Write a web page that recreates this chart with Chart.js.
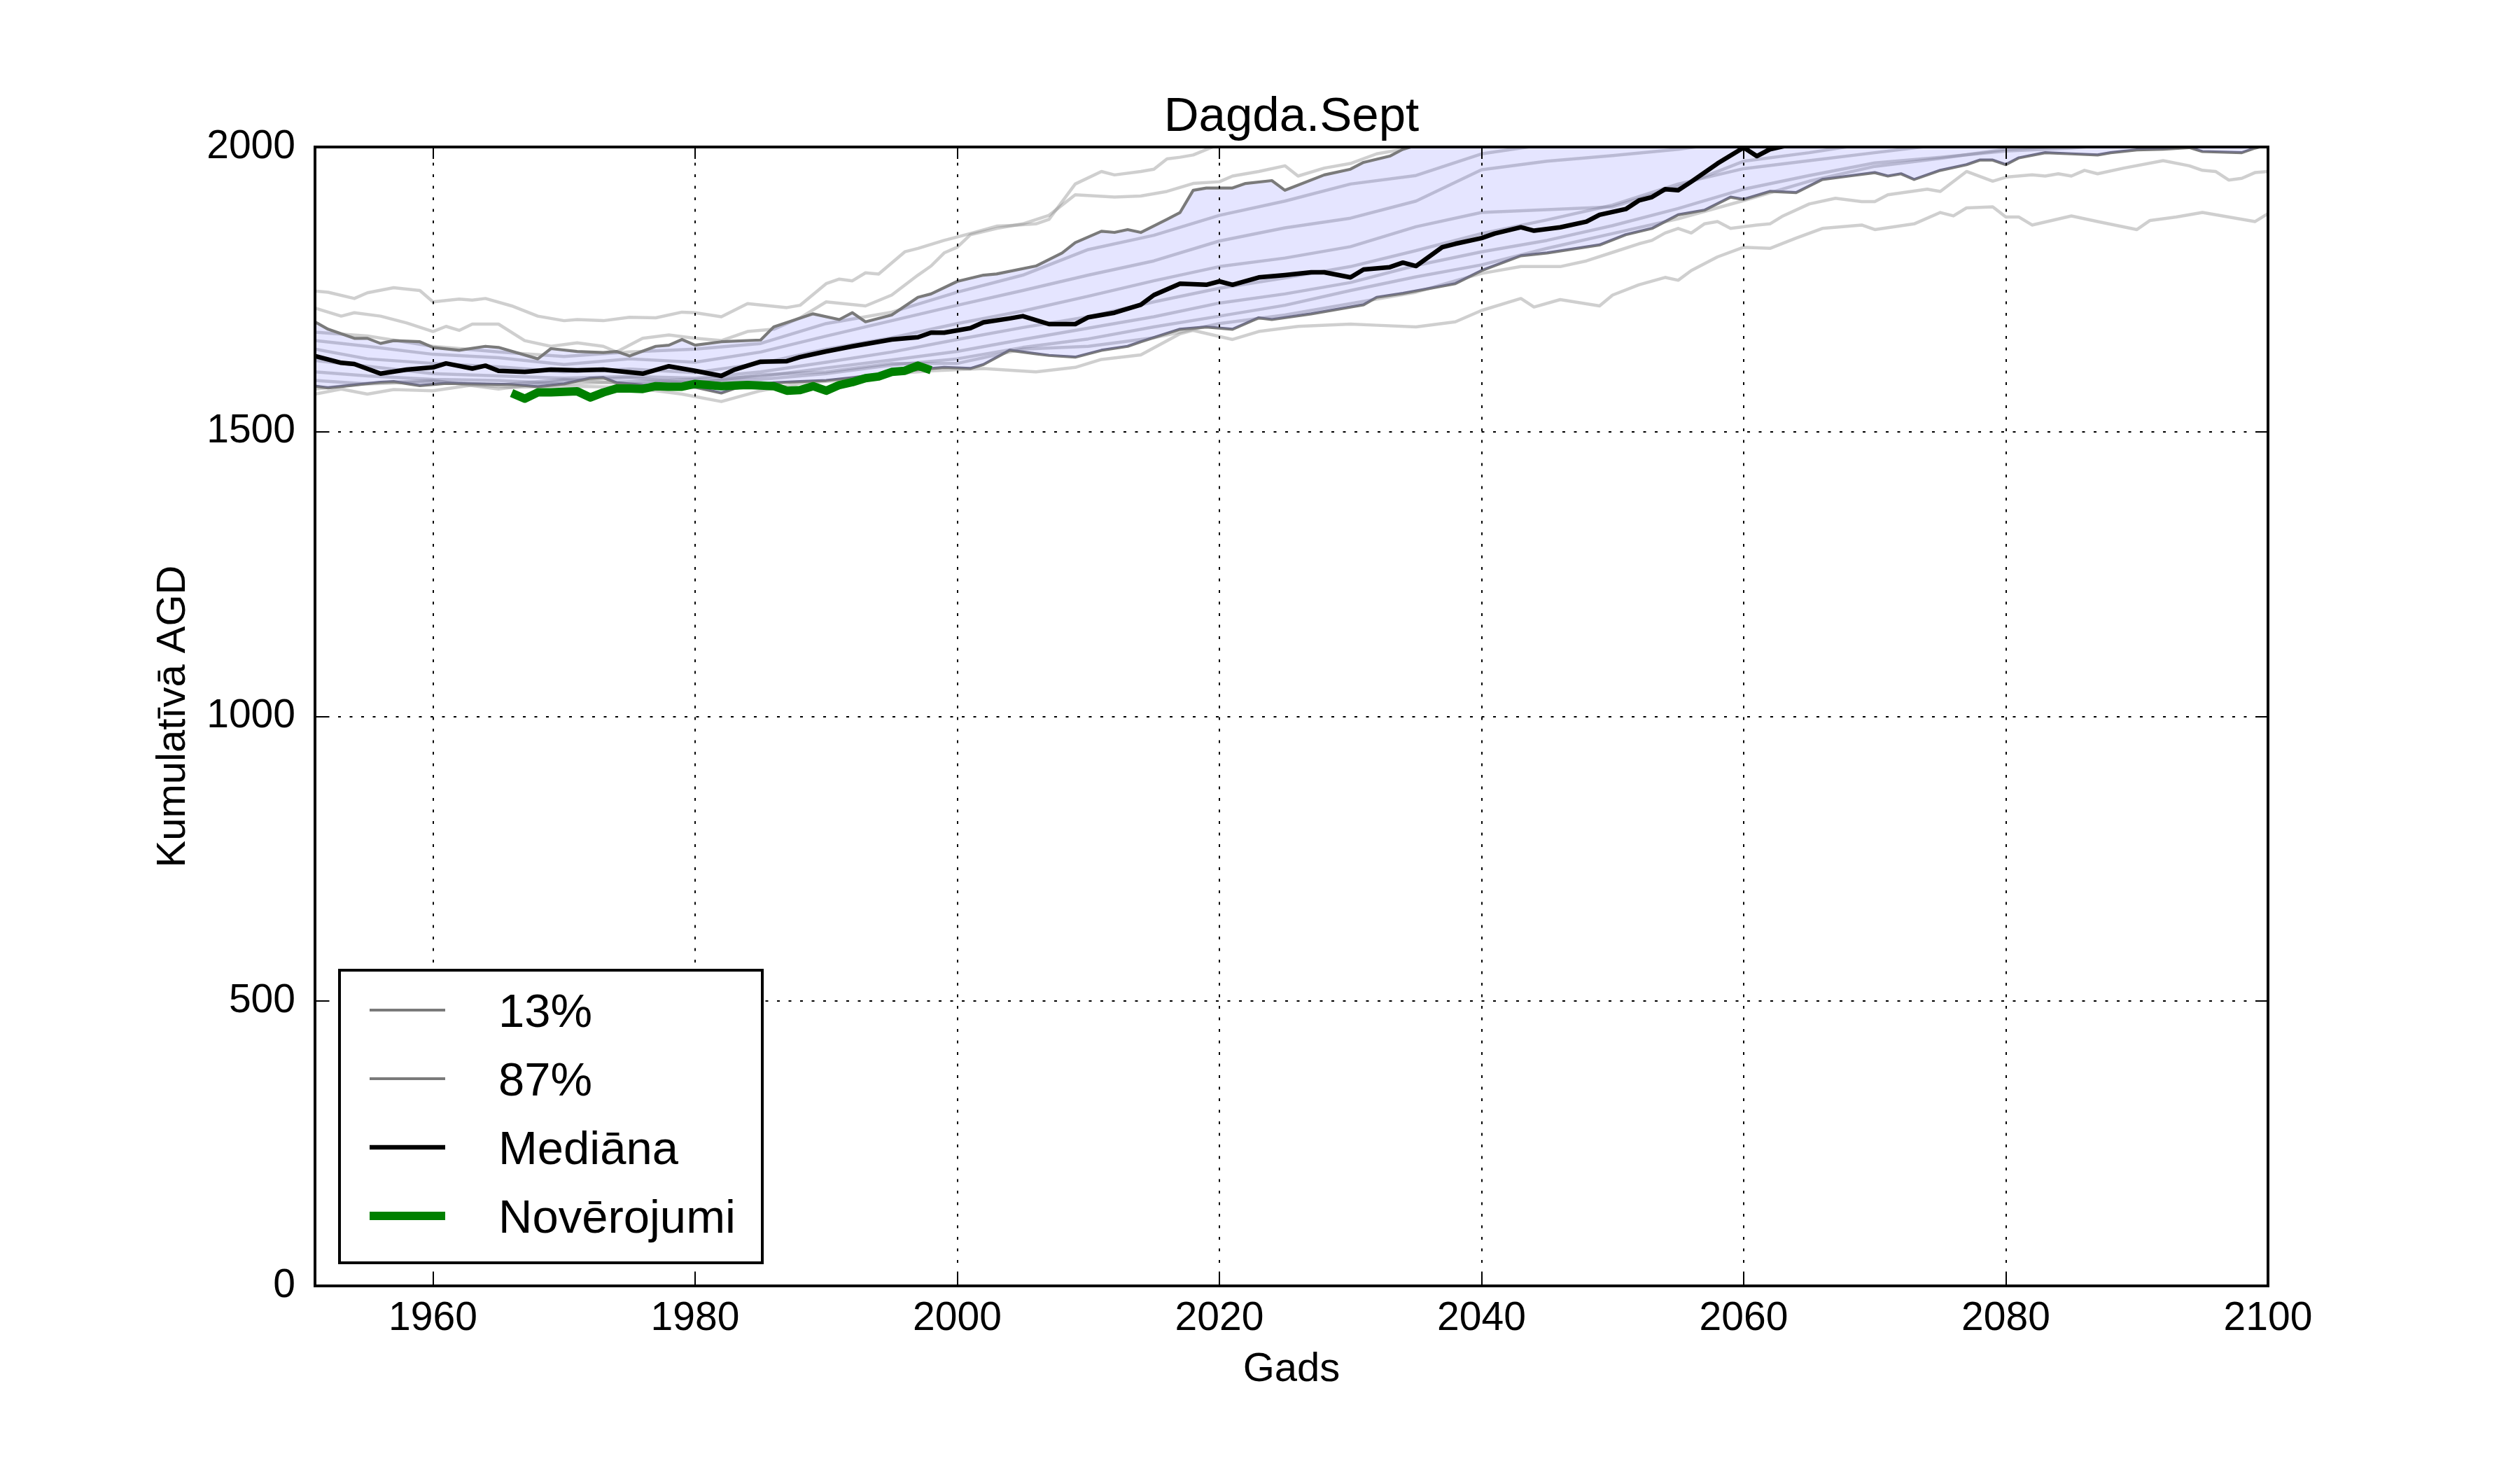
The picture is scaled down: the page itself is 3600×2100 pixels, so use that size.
<!DOCTYPE html>
<html lang="lv">
<head>
<meta charset="UTF-8">
<title>Dagda.Sept</title>
<script src="https://cdn.jsdelivr.net/npm/chart.js@4"></script>
<style>
    html, body { margin: 0; padding: 0; background: #fff; }
    #wrap { width: 3600px; height: 2100px; position: relative; }
</style>
</head>
<body>
<div id="wrap"><canvas id="chart"></canvas></div>
<script>
// values
const xTicks = [1960, 1980, 2000, 2020, 2040, 2060, 2080, 2100];
const yTicks = [0, 500, 1000, 1500, 2000];

const medianYears = [1951, 1953, 1954, 1956, 1958, 1960, 1961, 1963, 1964, 1965, 1967, 1969, 1971, 1973, 1976, 1978, 1980, 1982, 1983, 1985, 1987, 1988, 1990, 1992, 1994, 1995, 1997, 1998, 1999, 2001, 2002, 2004, 2005, 2007, 2009, 2010, 2012, 2014, 2015, 2017, 2019, 2020, 2021, 2023, 2025, 2027, 2028, 2030, 2031, 2033, 2034, 2035, 2037, 2038, 2040, 2041, 2043, 2044, 2046, 2048, 2049, 2051, 2052, 2053, 2054, 2055, 2056, 2057, 2058, 2060, 2061, 2062, 2063, 2065];
const medianValues = [1633, 1621, 1619, 1602, 1609, 1613, 1620, 1611, 1616, 1607, 1605, 1609, 1608, 1609, 1602, 1615, 1607, 1598, 1609, 1623, 1624, 1631, 1641, 1650, 1658, 1662, 1666, 1674, 1674, 1682, 1692, 1699, 1703, 1689, 1689, 1701, 1709, 1723, 1740, 1760, 1758, 1764, 1758, 1771, 1775, 1780, 1780, 1771, 1785, 1789, 1797, 1791, 1824, 1830, 1840, 1848, 1859, 1853, 1859, 1869, 1881, 1891, 1906, 1912, 1926, 1924, 1939, 1955, 1971, 1999, 1984, 1996, 2001, 2015];

const p87Years = [1951, 1952, 1954, 1955, 1956, 1957, 1959, 1960, 1962, 1964, 1965, 1968, 1969, 1971, 1973, 1974, 1975, 1977, 1978, 1979, 1980, 1982, 1985, 1986, 1989, 1991, 1992, 1993, 1995, 1997, 1998, 2000, 2002, 2003, 2006, 2008, 2009, 2011, 2012, 2013, 2014, 2016, 2017, 2018, 2019, 2021, 2022, 2024, 2025, 2028, 2030, 2031, 2033, 2034, 2035, 2040, 2050, 2060, 2070, 2080, 2090, 2100];
const p87Values = [1693, 1680, 1664, 1664, 1655, 1660, 1658, 1648, 1643, 1650, 1648, 1628, 1646, 1641, 1639, 1641, 1633, 1650, 1652, 1662, 1652, 1658, 1661, 1684, 1707, 1697, 1709, 1693, 1705, 1736, 1742, 1764, 1775, 1777, 1791, 1814, 1832, 1852, 1850, 1855, 1850, 1873, 1885, 1924, 1928, 1928, 1936, 1941, 1924, 1951, 1961, 1973, 1984, 1996, 2003, 2040, 2100, 2160, 2210, 2250, 2290, 2320];

const p13Years = [1951, 1952, 1954, 1956, 1957, 1959, 1961, 1963, 1966, 1968, 1970, 1972, 1973, 1974, 1976, 1980, 1982, 1983, 1986, 1988, 1990, 1992, 1994, 1997, 1999, 2001, 2002, 2004, 2006, 2007, 2009, 2011, 2013, 2014, 2017, 2019, 2021, 2023, 2024, 2027, 2028, 2031, 2032, 2034, 2038, 2040, 2043, 2045, 2049, 2051, 2053, 2055, 2057, 2059, 2060, 2062, 2064, 2066, 2068, 2070, 2071, 2072, 2073, 2075, 2077, 2078, 2079, 2080, 2081, 2083, 2085, 2087, 2088, 2090, 2092, 2094, 2095, 2098, 2099, 2100];
const p13Values = [1580, 1577, 1582, 1587, 1588, 1581, 1585, 1584, 1583, 1579, 1584, 1594, 1595, 1586, 1582, 1578, 1568, 1576, 1586, 1588, 1590, 1595, 1601, 1609, 1613, 1611, 1618, 1643, 1637, 1634, 1631, 1643, 1650, 1658, 1680, 1684, 1680, 1700, 1697, 1707, 1711, 1723, 1736, 1743, 1760, 1783, 1809, 1814, 1828, 1846, 1857, 1881, 1889, 1912, 1908, 1922, 1920, 1943, 1949, 1955, 1949, 1953, 1943, 1959, 1969, 1977, 1977, 1969, 1981, 1990, 1988, 1986, 1990, 1995, 1996, 1999, 1992, 1990, 1998, 2004];

const obsYears = [1966, 1967, 1968, 1969, 1970, 1971, 1972, 1973, 1974, 1975, 1976, 1977, 1978, 1979, 1980, 1981, 1982, 1983, 1984, 1985, 1986, 1987, 1988, 1989, 1990, 1991, 1992, 1993, 1994, 1995, 1996, 1997, 1998];
const obsValues = [1568, 1558, 1569, 1569, 1570, 1571, 1560, 1569, 1576, 1576, 1575, 1580, 1579, 1579, 1584, 1582, 1580, 1581, 1582, 1581, 1580, 1572, 1573, 1580, 1572, 1582, 1587, 1594, 1597, 1605, 1607, 1616, 1608];

// individual model runs (light grey)
const runAYears = [1951, 1952, 1954, 1955, 1957, 1959, 1960, 1962, 1963, 1964, 1966, 1968, 1970, 1971, 1973, 1975, 1977, 1979, 1980, 1982, 1984, 1987, 1988, 1990, 1991, 1992, 1993, 1994, 1996, 1997, 1999, 2001, 2003, 2004, 2006, 2007, 2009, 2011, 2012, 2014, 2015, 2016, 2017, 2018, 2020];
const runAValues = [1747, 1745, 1734, 1744, 1753, 1748, 1728, 1733, 1731, 1734, 1721, 1703, 1695, 1697, 1695, 1701, 1700, 1710, 1709, 1702, 1725, 1718, 1722, 1760, 1768, 1765, 1779, 1777, 1816, 1822, 1836, 1848, 1861, 1862, 1865, 1873, 1935, 1957, 1951, 1957, 1961, 1979, 1982, 1986, 2005];

const runBYears = [1951, 1953, 1954, 1956, 1958, 1960, 1961, 1962, 1963, 1965, 1967, 1969, 1971, 1973, 1974, 1976, 1978, 1980, 1982, 1984, 1986, 1988, 1990, 1993, 1995, 1997, 1998, 1999, 2000, 2001, 2003, 2005, 2007, 2009, 2012, 2014, 2016, 2018, 2020, 2021, 2023, 2025, 2026, 2028, 2030, 2032, 2034, 2036];
const runBValues = [1717, 1703, 1709, 1703, 1691, 1676, 1685, 1678, 1689, 1689, 1660, 1650, 1656, 1650, 1640, 1664, 1670, 1664, 1660, 1676, 1680, 1700, 1728, 1721, 1740, 1775, 1791, 1814, 1824, 1846, 1857, 1865, 1880, 1916, 1912, 1914, 1922, 1936, 1939, 1949, 1957, 1967, 1949, 1963, 1971, 1988, 1996, 2010];

const runCYears = [1951, 1953, 1955, 1957, 1960, 1963, 1966, 1970, 1975, 1979, 1982, 1985, 1988, 1991, 1994, 1998, 2002, 2006, 2009, 2011, 2014, 2017, 2018, 2021, 2023, 2026, 2030, 2032, 2035, 2038, 2040, 2043, 2044, 2046, 2049, 2050, 2052, 2054, 2055, 2056, 2058, 2060, 2062, 2064, 2066, 2069, 2070, 2073, 2075, 2076, 2077, 2079, 2080, 2081, 2082, 2085, 2087, 2090, 2091, 2093, 2095, 2097, 2099, 2100];
const runCValues = [1566, 1575, 1566, 1574, 1572, 1582, 1578, 1580, 1578, 1566, 1553, 1572, 1585, 1590, 1600, 1607, 1611, 1605, 1613, 1627, 1635, 1672, 1678, 1662, 1676, 1685, 1689, 1687, 1684, 1693, 1713, 1734, 1719, 1732, 1721, 1740, 1758, 1771, 1766, 1783, 1807, 1824, 1822, 1840, 1857, 1863, 1855, 1865, 1885, 1879, 1893, 1895, 1877, 1877, 1863, 1879, 1869, 1855, 1871, 1877, 1885, 1877, 1869, 1883];

const runDYears = [1951, 1955, 1960, 1965, 1970, 1975, 1980, 1985, 1990, 1995, 2000, 2005, 2010, 2015, 2020, 2025, 2030, 2035, 2038, 2040, 2043, 2046, 2048, 2050, 2052, 2053, 2054, 2055, 2056, 2057, 2058, 2059, 2061, 2062, 2063, 2065, 2067, 2069, 2070, 2071, 2074, 2075, 2077, 2079, 2080, 2082, 2083, 2084, 2085, 2086, 2087, 2089, 2092, 2094, 2095, 2096, 2097, 2098, 2099, 2100];
const runDValues = [1575, 1585, 1590, 1575, 1590, 1595, 1585, 1600, 1605, 1620, 1620, 1645, 1650, 1665, 1690, 1705, 1725, 1745, 1765, 1778, 1790, 1790, 1800, 1815, 1830, 1836, 1849, 1857, 1849, 1865, 1869, 1857, 1863, 1865, 1879, 1900, 1910, 1904, 1904, 1916, 1926, 1922, 1957, 1940, 1947, 1951, 1949, 1953, 1949, 1959, 1953, 1963, 1976, 1967, 1959, 1957, 1942, 1945, 1955, 1957];

const runYears = [1951, 1955, 1960, 1965, 1970, 1975, 1980, 1985, 1990, 1995, 2000, 2005, 2010, 2015, 2020, 2025, 2030, 2035, 2040, 2045, 2050, 2055, 2060, 2065, 2070, 2075, 2080, 2085, 2090, 2095, 2100];
const runE = [1675, 1668, 1650, 1640, 1632, 1640, 1645, 1655, 1690, 1710, 1745, 1775, 1820, 1845, 1880, 1905, 1935, 1950, 1988, 2005, null, null, null, null, null, null, null, null, null, null, null];
const runF = [1660, 1650, 1636, 1630, 1618, 1628, 1622, 1640, 1668, 1695, 1722, 1748, 1775, 1800, 1835, 1858, 1875, 1905, 1960, 1975, 1985, 1996, 2012, null, null, null, null, null, null, null, null];
const runG = [1645, 1628, 1620, 1614, 1605, 1610, 1604, 1620, 1645, 1665, 1690, 1712, 1738, 1765, 1790, 1805, 1825, 1860, 1885, 1890, 1895, 1930, 1975, 1990, 2008, null, null, null, null, null, null];
const runH = [1625, 1615, 1602, 1598, 1594, 1597, 1594, 1605, 1622, 1640, 1662, 1683, 1702, 1728, 1752, 1770, 1790, 1818, 1848, 1872, 1898, 1935, 1962, 1976, 1990, 2004, null, null, null, null, null];
const runI = [1605, 1598, 1592, 1590, 1584, 1588, 1592, 1597, 1612, 1626, 1641, 1662, 1682, 1702, 1726, 1742, 1762, 1792, 1816, 1836, 1862, 1892, 1926, 1950, 1972, 1982, 1993, 1998, 2008, null, null];
const runJ = [1590, 1584, 1588, 1582, 1592, 1584, 1588, 1592, 1602, 1617, 1628, 1648, 1663, 1684, 1703, 1722, 1748, 1772, 1793, 1822, 1848, 1874, 1906, 1940, 1966, 1980, 1996, 2002, null, null, null];

const FONT = '"Liberation Sans", Arial, sans-serif';

function pts(xs, ys) {
    return xs.map((x, i) => ({ x: x, y: ys[i] }));
}

function run(xs, ys) {
    return {
        label: '',
        data: pts(xs, ys),
        borderColor: 'rgba(140,140,140,0.42)',
        borderWidth: 4.5,
        pointRadius: 0,
        fill: false,
        order: 10,
        clip: 0
    };
}

const datasets = [
    { label: '13%', data: pts(p13Years, p13Values), borderColor: '#7a7a7a', borderWidth: 4.2, pointRadius: 0, fill: false, order: 3, clip: 0, inLegend: true },
    { label: '87%', data: pts(p87Years, p87Values), borderColor: '#7a7a7a', borderWidth: 4.2, pointRadius: 0, fill: 0, backgroundColor: 'rgba(0,0,255,0.1)', order: 2, clip: 0, inLegend: true },
    { label: 'Mediāna', data: pts(medianYears, medianValues), borderColor: '#000000', borderWidth: 6.5, pointRadius: 0, fill: false, order: 1, clip: 0, inLegend: true },
    { label: 'Novērojumi', data: pts(obsYears, obsValues), borderColor: '#008000', borderWidth: 12, pointRadius: 0, fill: false, order: 0, clip: 0, inLegend: true },
    run(runAYears, runAValues),
    run(runBYears, runBValues),
    run(runCYears, runCValues),
    run(runDYears, runDValues),
    run(runYears, runE),
    run(runYears, runF),
    run(runYears, runG),
    run(runYears, runH),
    run(runYears, runI),
    run(runYears, runJ)
];

// dotted grid, inward ticks and the black frame (matplotlib classic look)
const axesDeco = {
    id: 'axesDeco',
    afterDatasetsDraw(chart) {
        const { ctx, chartArea: a, scales: { x, y } } = chart;
        ctx.save();
        ctx.strokeStyle = '#000';
        ctx.lineWidth = 2;
        ctx.setLineDash([4, 12.5]);
        xTicks.forEach(v => {
            const px = Math.round(x.getPixelForValue(v));
            if (px <= a.left + 3 || px >= a.right - 3) return;
            ctx.beginPath(); ctx.moveTo(px, a.bottom); ctx.lineTo(px, a.top); ctx.stroke();
        });
        yTicks.forEach(v => {
            const py = Math.round(y.getPixelForValue(v));
            if (py <= a.top + 3 || py >= a.bottom - 3) return;
            ctx.beginPath(); ctx.moveTo(a.left, py); ctx.lineTo(a.right, py); ctx.stroke();
        });
        ctx.setLineDash([]);
        const tl = 17;
        ctx.beginPath();
        xTicks.forEach(v => {
            const px = Math.round(x.getPixelForValue(v));
            ctx.moveTo(px, a.bottom); ctx.lineTo(px, a.bottom - tl);
            ctx.moveTo(px, a.top); ctx.lineTo(px, a.top + tl);
        });
        yTicks.forEach(v => {
            const py = Math.round(y.getPixelForValue(v));
            ctx.moveTo(a.left, py); ctx.lineTo(a.left + tl, py);
            ctx.moveTo(a.right, py); ctx.lineTo(a.right - tl, py);
        });
        ctx.stroke();
        ctx.lineWidth = 4;
        ctx.strokeRect(a.left, a.top, a.right - a.left, a.bottom - a.top);
        ctx.restore();
    }
};

// legend boxed inside the lower left corner of the plot
const insideLegend = {
    id: 'insideLegend',
    afterDraw(chart) {
        const { ctx, chartArea: a } = chart;
        const items = chart.data.datasets.filter(d => d.inLegend);
        const w = 604, h = 418;
        const bx = a.left + 35, by = a.bottom - 33 - h;
        ctx.save();
        ctx.fillStyle = '#fff';
        ctx.fillRect(bx, by, w, h);
        ctx.lineWidth = 4;
        ctx.strokeStyle = '#000';
        ctx.strokeRect(bx, by, w, h);
        ctx.font = '67px ' + FONT;
        ctx.textBaseline = 'alphabetic';
        items.forEach((d, i) => {
            const cy = by + 57 + i * 98;
            ctx.strokeStyle = d.borderColor;
            ctx.lineWidth = d.borderWidth;
            ctx.beginPath(); ctx.moveTo(bx + 43, cy); ctx.lineTo(bx + 151, cy); ctx.stroke();
            ctx.fillStyle = '#000';
            ctx.fillText(d.label, bx + 227, cy + 24);
        });
        ctx.restore();
    }
};

Chart.defaults.color = '#000';
Chart.defaults.font.family = FONT;

new Chart(document.getElementById('chart'), {
    type: 'line',
    data: { datasets: datasets },
    options: {
        responsive: true,
        maintainAspectRatio: false,
        devicePixelRatio: 1,
        animation: false,
        events: [],
        layout: { padding: { left: 0, right: 360, top: 0, bottom: 0 } },
        elements: { line: { tension: 0, borderJoinStyle: 'round' } },
        plugins: {
            legend: { display: false },
            tooltip: { enabled: false },
            title: {
                display: true,
                fullSize: false,
                text: 'Dagda.Sept',
                color: '#000',
                font: { size: 69, weight: 'normal', family: FONT },
                padding: { top: 127, bottom: 0.2 }
            }
        },
        scales: {
            x: {
                type: 'linear',
                min: 1951,
                max: 2100,
                afterBuildTicks: s => { s.ticks = xTicks.map(v => ({ value: v })); },
                afterFit: s => { s.height = 263; },
                grid: { display: false },
                border: { display: false },
                ticks: {
                    autoSkip: false,
                    maxRotation: 0,
                    padding: 5,
                    font: { size: 57 },
                    callback: v => String(v)
                },
                title: { display: true, text: 'Gads', font: { size: 58 }, padding: { top: 0, bottom: 108 } }
            },
            y: {
                type: 'linear',
                min: 0,
                max: 2000,
                afterBuildTicks: s => { s.ticks = yTicks.map(v => ({ value: v })); },
                afterFit: s => { s.width = 450; },
                grid: { display: false },
                border: { display: false },
                ticks: {
                    padding: 20,
                    font: { size: 57 },
                    callback: v => String(v)
                },
                title: { display: true, text: 'Kumulatīvā AGD', font: { size: 58 }, padding: { top: 213, bottom: 0 } }
            }
        }
    },
    plugins: [axesDeco, insideLegend]
});
</script>
</body>
</html>
